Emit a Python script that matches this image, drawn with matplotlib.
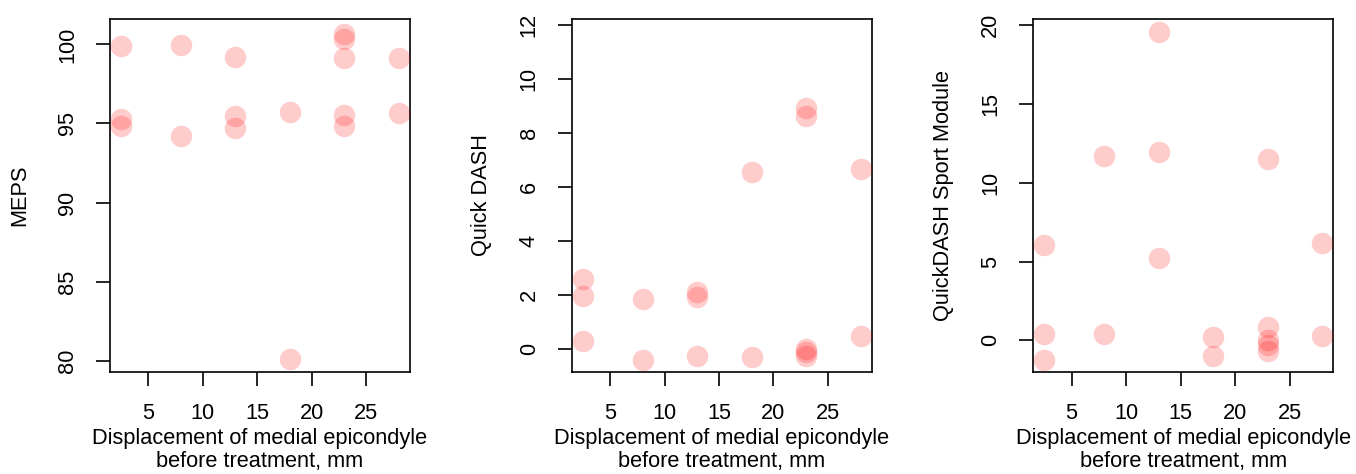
import matplotlib
matplotlib.use("Agg")
import matplotlib.pyplot as plt

plt.rcParams['font.family'] = ['Liberation Sans', 'DejaVu Sans']

displacement = [2.5, 2.5, 2.5, 8, 8, 13, 13, 13, 18, 18, 23, 23, 23, 23, 23, 28, 28]
meps = [99.87, 95.31, 94.83, 99.94, 94.21, 99.2, 95.5, 94.72, 95.71, 80.13,
        100.63, 100.32, 99.16, 95.52, 94.87, 99.16, 95.67]
quick_dash = [2.59, 1.97, 0.30, 1.83, -0.42, 2.09, 1.93, -0.25, 6.56, -0.32,
              8.95, 8.63, -0.01, -0.10, -0.26, 6.66, 0.48]
sport_module = [6.08, 0.42, -1.23, 11.70, 0.42, 19.57, 11.93, 5.23, 0.21, -0.97,
                11.49, 0.85, 0.0, -0.32, -0.68, 6.17, 0.25]

xticks = [5, 10, 15, 20, 25]
xlabel = "Displacement of medial epicondyle\nbefore treatment, mm"

panels = [
    dict(y=meps, ylabel="MEPS", ylim=(79.26, 101.62), yticks=[80, 85, 90, 95, 100]),
    dict(y=quick_dash, ylabel="Quick DASH", ylim=(-0.87, 12.24), yticks=[0, 2, 4, 6, 8, 10, 12]),
    dict(y=sport_module, ylabel="QuickDASH Sport Module", ylim=(-2.03, 20.41), yticks=[0, 5, 10, 15, 20]),
]

W, H = 1356, 474
fig = plt.figure(figsize=(W / 100, H / 100), dpi=100)
lefts = [110, 571.7, 1033.3]
top_px, bot_px = 18.8, 372.3
width_px = 300
FS = 15.7

xmin, xmax = min(displacement), max(displacement)
xr = xmax - xmin
xlim = (xmin - 0.04 * xr, xmax + 0.04 * xr)

for left, p in zip(lefts, panels):
    ax = fig.add_axes([left / W, 1 - bot_px / H, width_px / W, (bot_px - top_px) / H])
    ax.scatter(displacement, p["y"], s=240, color=(1, 0, 0, 0.2), linewidths=0, zorder=3)
    ax.set_xlim(*xlim)
    ax.set_ylim(*p["ylim"])
    ax.set_xticks(xticks)
    ax.set_yticks(p["yticks"])
    for sp in ax.spines.values():
        sp.set_linewidth(1.2)
        sp.set_color("black")
    ax.tick_params(axis="both", direction="out", length=10, width=1.2, labelsize=FS, color="black")
    ax.tick_params(axis="x", pad=12)
    ax.tick_params(axis="y", pad=13)
    for lab in ax.get_yticklabels():
        lab.set_rotation(90)
        lab.set_va("center")
    ax.set_xlabel(xlabel, fontsize=FS, linespacing=1.13)
    ax.xaxis.set_label_coords(0.5, -0.158)
    ax.set_ylabel(p["ylabel"], fontsize=FS)
    ax.yaxis.set_label_coords(-0.265, 0.5)

fig.savefig("out.png", dpi=100)
